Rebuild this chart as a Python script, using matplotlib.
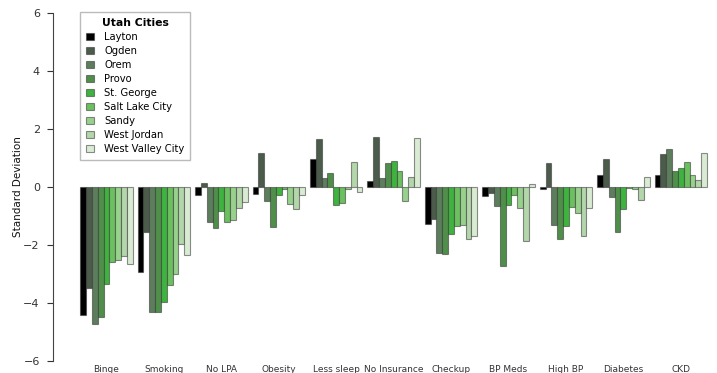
import matplotlib
matplotlib.use("Agg")
import matplotlib.pyplot as plt
import numpy as np

categories = ["Binge", "Smoking", "No LPA", "Obesity", "Less sleep", "No Insurance",
              "Checkup", "BP Meds", "High BP", "Diabetes", "CKD"]
cities = ["Layton", "Ogden", "Orem", "Provo", "St. George", "Salt Lake City",
          "Sandy", "West Jordan", "West Valley City"]

layton   = [-4.41, -2.92, -0.29, -0.24, 0.97, 0.22, -1.29, -0.30, -0.06, 0.43, 0.40]
ogden    = [-3.47, -1.56, 0.13, 1.16, 1.64, 1.74, -1.09, -0.22, 0.84, 0.98, 1.14]
orem     = [-4.72, -4.31, -1.20, -0.47, 0.32, 0.30, -2.26, -0.64, -1.32, -0.33, 1.31]
provo    = [-4.48, -4.31, -1.40, -1.39, 0.49, 0.84, -2.31, -2.74, -1.80, -1.56, 0.54]
stgeorge = [-3.36, -3.98, -0.82, -0.29, -0.63, 0.89, -1.63, -0.63, -1.34, -0.77, 0.64]
slc      = [-2.57, -3.38, -1.20, -0.08, -0.54, 0.56, -1.34, -0.29, -0.68, -0.03, 0.85]
sandy    = [-2.52, -3.01, -1.14, -0.60, -0.07, -0.47, -1.31, -0.72, -0.89, -0.08, 0.43]
wjordan  = [-2.38, -1.98, -0.71, -0.76, 0.87, 0.36, -1.80, -1.87, -1.68, -0.45, 0.25]
wvc      = [-2.66, -2.34, -0.53, -0.28, -0.18, 1.70, -1.69, 0.11, -0.72, 0.35, 1.16]

series = [layton, ogden, orem, provo, stgeorge, slc, sandy, wjordan, wvc]
colors = ["#000000", "#4b5c4b", "#5d7e5d", "#4f8f4a", "#3fb33f",
          "#6cc060", "#98d18c", "#b3d6ab", "#d9ecd3"]

fig = plt.figure(figsize=(7.17, 3.73), dpi=100)
ax = fig.add_axes([53/717, 12/373, 664/717, 348/373])

x = np.arange(len(categories))
w = 0.1015
for i, (vals, c, name) in enumerate(zip(series, colors, cities)):
    ax.bar(x + (i - 4) * w, vals, width=w, color=c, edgecolor=(0.2, 0.2, 0.2, 0.55),
           linewidth=0.8, label=name)

ax.set_xlim(-0.93, 10.63)
ax.set_ylim(-6, 6)
ax.set_yticks([-6, -4, -2, 0, 2, 4, 6])
ax.set_xticks(x)
ax.set_xticklabels(categories, fontsize=6.5, color="#333333")
ax.tick_params(axis="x", length=0, pad=3)
ax.tick_params(axis="y", labelsize=8, colors="#333333", length=4.5, width=0.8,
               direction="out", pad=5)
for s in ["top", "right", "bottom"]:
    ax.spines[s].set_visible(False)
ax.spines["left"].set_color("#444444")
ax.spines["left"].set_linewidth(0.8)
ax.set_ylabel("Standard Deviation", fontsize=7.5, color="#111111", labelpad=0)

leg = ax.legend(loc="upper left", bbox_to_anchor=(0.041, 1.003), fontsize=7.2,
                title="Utah Cities", title_fontproperties={"weight": "bold", "size": 7.8},
                frameon=True, fancybox=False, handlelength=0.8, handleheight=0.6,
                handletextpad=1.0, labelspacing=0.4, borderpad=0.6, borderaxespad=0)
leg.get_frame().set_edgecolor("#aaaaaa")
leg.get_frame().set_linewidth(1.0)
for h in leg.legend_handles:
    h.set_edgecolor((0.2, 0.2, 0.2, 0.55))

fig.savefig("out.png", dpi=100)
